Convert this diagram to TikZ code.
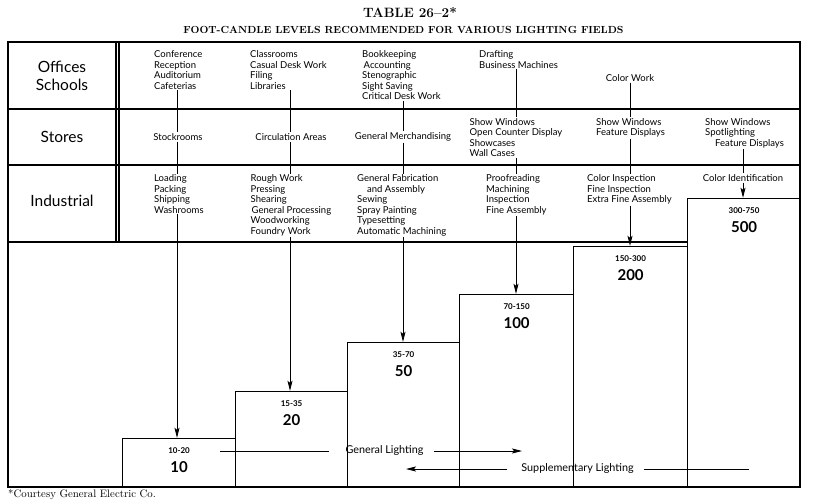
\documentclass[tikz,border=0pt]{standalone}
\usepackage{fontspec}
\newfontfamily\sansf{Lato}
\usetikzlibrary{arrows.meta}
\begin{document}
\begin{tikzpicture}[x=1pt,y=-1pt,
  frame/.style={line width=1.3pt},
  rule/.style={line width=1.1pt},
  stepbox/.style={draw, line width=1.2pt, anchor=south west, inner sep=0pt},
  lst/.style={font=\sansf\fontsize{9.5}{10.5}\selectfont, align=left, anchor=north west, inner sep=0pt},
  one/.style={font=\sansf\fontsize{9.5}{10.5}\selectfont, inner sep=0pt},
  big/.style={font=\sansf\fontsize{10.8}{12}\selectfont, inner sep=0pt},
  cat/.style={font=\sansf\fontsize{15.5}{18}\selectfont, align=center, inner sep=0pt},
  rng/.style={font=\sansf\bfseries\fontsize{8}{9}\selectfont, inner sep=0pt},
  num/.style={font=\sansf\bfseries\fontsize{15}{16}\selectfont, inner sep=0pt},
  link/.style={line width=0.8pt, shorten <=1pt, shorten >=1pt},
  hline/.style={line width=0.8pt},
  arr/.style={line width=0.8pt, shorten <=1pt, -{Stealth[length=10pt,width=5pt,inset=2pt]}},
]
\useasboundingbox (0,0) rectangle (821,503);

% titles
\node[font=\bfseries\fontsize{13.5}{15}\selectfont, inner sep=0pt] (ttl) at (410,13) {TABLE 26–2*};
\node[font=\bfseries\fontsize{10.3}{12}\selectfont, inner sep=0pt] (sub) at (403.5,30) {FOOT-CANDLE LEVELS RECOMMENDED FOR VARIOUS LIGHTING FIELDS};

% frame and rules
\draw[frame] (8,487) -- (8,42) -- (800,42) -- (800,487) -- cycle;
\draw[rule] (8,109) -- (800,109);
\draw[rule] (8,165) -- (800,165);
\draw[rule] (8,242) -- (687,242);
\draw[rule] (116,42) -- (116,242);
\draw[rule] (119,42) -- (119,242);

% step boxes
\node[stepbox, minimum width=113pt, minimum height=48pt]  (b1) at (122,487) {};
\node[stepbox, minimum width=112pt, minimum height=95pt]  (b2) at (235,487) {};
\node[stepbox, minimum width=112pt, minimum height=144pt] (b3) at (347,487) {};
\node[stepbox, minimum width=114pt, minimum height=192pt] (b4) at (459,487) {};
\node[stepbox, minimum width=114pt, minimum height=240pt] (b5) at (573,487) {};
\node[stepbox, minimum width=113pt, minimum height=288pt] (b6) at (687,487) {};

\node[rng] (r1) at ([yshift=-12.5pt]b1.north) {10-20};
\node[num] (n1) at ([yshift=-29pt]b1.north) {10};
\node[rng] (r2) at ([yshift=-12.5pt]b2.north) {15-35};
\node[num] (n2) at ([yshift=-29pt]b2.north) {20};
\node[rng] (r3) at ([yshift=-12.5pt]b3.north) {35-70};
\node[num] (n3) at ([yshift=-29pt]b3.north) {50};
\node[rng] (r4) at ([yshift=-12.5pt]b4.north) {70-150};
\node[num] (n4) at ([yshift=-29pt]b4.north) {100};
\node[rng] (r5) at ([yshift=-12.5pt]b5.north) {150-300};
\node[num] (n5) at ([yshift=-29pt]b5.north) {200};
\node[rng] (r6) at ([yshift=-12.5pt]b6.north) {300-750};
\node[num] (n6) at ([yshift=-29pt]b6.north) {500};

% row labels
\node[cat] (off) at (62,76) {Offices\\Schools};
\node[cat] (sto) at (62,137) {Stores};
\node[cat] (ind) at (62,201) {Industrial};

% column x positions
\coordinate (x1) at (177,0);
\coordinate (x2) at (290,0);
\coordinate (x3) at (403,0);
\coordinate (x4) at (516,0);
\coordinate (x5) at (630,0);
\coordinate (x6) at (743,0);

% row 1 texts
\node[lst] (a1) at (154,50.5) {Conference\\Reception\\Auditorium\\Cafeterias};
\node[lst] (a2) at (250,50.5) {Classrooms\\Casual Desk Work\\Filing\\Libraries};
\node[lst] (a3) at (362,50.5) {Bookkeeping\\\hspace*{1.5pt}Accounting\\Stenographic\\Sight Saving\\Critical Desk Work};
\node[lst] (a4) at (479,50.5) {Drafting\\Business Machines};
\node[one] (a5) at (630,78) {Color Work};

% row 2 texts
\node[one] (m1) at (178,137) {Stockrooms};
\node[one] (m2) at (291,137) {Circulation Areas};
\node[one] (m3) at (403,137) {General Merchandising};
\node[lst] (m4) at (469.5,118) {Show Windows\\Open Counter Display\\Showcases\\Wall Cases};
\node[lst] (m5) at (596,118) {Show Windows\\Feature Displays};
\node[lst] (m6) at (705,118) {Show Windows\\Spotlighting\\\hspace*{10pt}Feature Displays};

% row 3 texts
\node[lst] (c1) at (154,174.5) {Loading\\Packing\\Shipping\\Washrooms};
\node[lst] (c2) at (250.5,174.5) {Rough Work\\Pressing\\Shearing\\\hspace*{1pt}General Processing\\Woodworking\\Foundry Work};
\node[lst] (c3) at (357,174.5) {General Fabrication\\\hspace*{10pt}and Assembly\\Sewing\\Spray Painting\\Typesetting\\Automatic Machining};
\node[lst] (c4) at (486,174.5) {Proofreading\\Machining\\Inspection\\Fine Assembly};
\node[lst] (c5) at (587,174.5) {Color Inspection\\Fine Inspection\\Extra Fine Assembly};
\node[one] (c6) at (743,178) {Color Identification};

% column connectors
\draw[link] (a1.south -| x1) -- (m1.north -| x1);
\draw[link] (m1.south -| x1) -- (c1.north -| x1);
\draw[arr]  (c1.south -| x1) -- (b1.north -| x1);

\draw[link] (a2.south -| x2) -- (m2.north -| x2);
\draw[link] (m2.south -| x2) -- (c2.north -| x2);
\draw[arr]  (c2.south -| x2) -- (b2.north -| x2);

\draw[link] (a3.south -| x3) -- (m3.north -| x3);
\draw[link] (m3.south -| x3) -- (c3.north -| x3);
\draw[arr]  (c3.south -| x3) -- (b3.north -| x3);

\draw[link] (a4.south -| x4) -- (m4.north -| x4);
\draw[link] (m4.south -| x4) -- (c4.north -| x4);
\draw[arr]  (c4.south -| x4) -- (b4.north -| x4);

\draw[link] (a5.south -| x5) -- (m5.north -| x5);
\draw[link] (m5.south -| x5) -- (c5.north -| x5);
\draw[arr]  (c5.south -| x5) -- (b5.north -| x5);

\draw[link] (m6.south -| x6) -- (c6.north -| x6);
\draw[arr]  (c6.south -| x6) -- (b6.north -| x6);

% lighting arrows
\node[big] (gl) at (384.5,451) {General Lighting};
\coordinate (glA) at (220,451);
\coordinate (glD) at (522,451);
\draw[hline] (glA) -- ([xshift=-16pt]gl.west);
\draw[arr, shorten <=0pt] ([xshift=10pt]gl.east) -- (glD);

\node[big] (sl) at (577.5,469) {Supplementary Lighting};
\coordinate (slB) at (406,469);
\coordinate (slD) at (749,469);
\draw[arr, shorten <=0pt] ([xshift=-14pt]sl.west) -- (slB);
\draw[hline] ([xshift=10pt]sl.east) -- (slD);

% footnote
\node[font=\fontsize{10.8}{12}\selectfont, anchor=west, inner sep=0pt] (fn) at (8,495) {*Courtesy General Electric Co.};
\end{tikzpicture}
\end{document}
